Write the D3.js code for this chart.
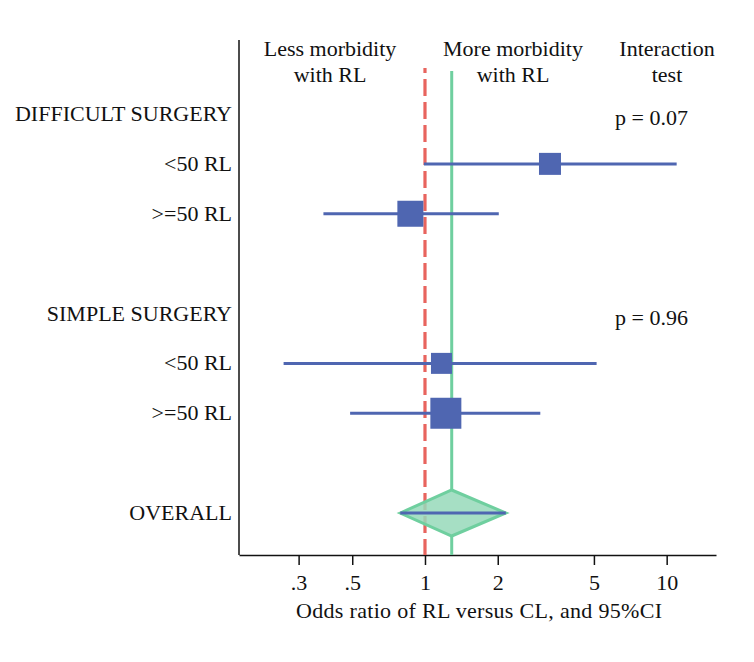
<!DOCTYPE html>
<html>
<head>
<meta charset="utf-8">
<script src="https://cdn.jsdelivr.net/npm/d3@7.9.0/dist/d3.min.js"></script>
<style>
  body { margin: 0; background: #fff; }
  svg text { font-family: "Liberation Serif", "Times New Roman", serif; fill: #111; }
</style>
</head>
<body>
<svg id="chart" width="754" height="662"></svg>
<script>
// rows, top to bottom (blank strings are spacer rows)
const rowLabels = ["DIFFICULT SURGERY", "<50 RL", ">=50 RL", "", "SIMPLE SURGERY", "<50 RL", ">=50 RL", "", "OVERALL"];

// subgroup estimates: which row they sit on, OR and 95% CI, weight (%)
const subRows = [1, 2, 5, 6];
const subOR = [3.29, 0.87, 1.17, 1.22];
const subLower = [0.99, 0.38, 0.26, 0.49];
const subUpper = [11.0, 2.02, 5.13, 3.0];
const subWeight = [18.9, 26.4, 17.2, 37.5];

// interaction tests, on the group header rows
const pRows = [0, 4];
const pLabels = ["p = 0.07", "p = 0.96"];

// pooled estimate
const overallRow = 8;
const overallOR = [1.29];
const overallCI = [0.79, 2.16];

const tickValues = [0.3, 0.5, 1, 2, 5, 10];
const tickLabels = [".3", ".5", "1", "2", "5", "10"];

const blue = "#4f66b1", green = "#6fcf9f", red = "#e8645e";
const fs = 22;

const svg = d3.select("#chart");
const x = d3.scaleLog().domain([0.17, 16]).range([239, 716]);
const y = d3.scaleLinear().domain([0, 8]).range([114, 513]);
const size = d3.scaleSqrt().domain([0, 100]).range([0, 50.6]);
const axisY = 555, frameTop = 40, halfDiamond = 23;

// left frame line
svg.append("line").attr("x1", 239).attr("x2", 239).attr("y1", frameTop).attr("y2", axisY)
  .attr("stroke", "#111").attr("stroke-width", 1.5);

// bottom axis
const axis = d3.axisBottom(x).tickValues(tickValues)
  .tickFormat((d, i) => tickLabels[i]).tickSize(10).tickSizeOuter(0).tickPadding(9);
const gx = svg.append("g").attr("transform", `translate(0,${axisY})`).call(axis);
gx.select(".domain").attr("stroke", "#111").attr("stroke-width", 1.5);
gx.selectAll(".tick line").attr("stroke", "#111").attr("stroke-width", 1.5);
gx.selectAll(".tick text").attr("font-size", fs)
  .style("font-family", "'Liberation Serif', serif").attr("fill", "#111");

svg.append("text").attr("x", 479).attr("y", 618).attr("text-anchor", "middle")
  .attr("font-size", fs).attr("textLength", 366).text("Odds ratio of RL versus CL, and 95%CI");

// reference lines: no effect (dashed) and pooled estimate
svg.append("line").attr("x1", x(1)).attr("x2", x(1)).attr("y1", 68).attr("y2", axisY)
  .attr("stroke", red).attr("stroke-width", 3.2).attr("stroke-dasharray", "17,6")
  .attr("stroke-dashoffset", 12);

const oy = y(overallRow), ox = x(overallOR[0]);
svg.append("line").attr("x1", ox).attr("x2", ox)
  .attr("y1", 71).attr("y2", oy - halfDiamond).attr("stroke", green).attr("stroke-width", 3);
svg.append("line").attr("x1", ox).attr("x2", ox)
  .attr("y1", oy + halfDiamond).attr("y2", axisY).attr("stroke", green).attr("stroke-width", 3);

// header text
const header = [
  { cx: 330, lines: ["Less morbidity", "with RL"] },
  { cx: 513, lines: ["More morbidity", "with RL"] },
  { cx: 667, lines: ["Interaction", "test"] }
];
header.forEach(h => {
  h.lines.forEach((t, i) => {
    svg.append("text").attr("x", h.cx).attr("y", 56 + i * 26).attr("text-anchor", "middle")
      .attr("font-size", fs).text(t);
  });
});

// row labels
svg.selectAll(".rowlab").data(rowLabels).join("text").attr("class", "rowlab")
  .attr("x", 232).attr("y", (d, i) => y(i) + 7).attr("text-anchor", "end")
  .attr("font-size", fs).text(d => d);

// p-values
svg.selectAll(".pval").data(pLabels).join("text").attr("class", "pval")
  .attr("x", 615).attr("y", (d, i) => y(pRows[i]) + 11)
  .attr("font-size", fs).text(d => d);

// overall diamond + its CI
svg.append("path")
  .attr("d", `M${x(overallCI[0])},${oy} L${ox},${oy - halfDiamond} L${x(overallCI[1])},${oy} L${ox},${oy + halfDiamond} Z`)
  .attr("fill", "#97d9ba").attr("fill-opacity", 0.85).attr("stroke", green).attr("stroke-width", 3);
svg.append("line").attr("x1", x(overallCI[0])).attr("x2", x(overallCI[1]))
  .attr("y1", oy).attr("y2", oy).attr("stroke", blue).attr("stroke-width", 3);

// subgroup CIs and squares
const idx = d3.range(subRows.length);
svg.selectAll(".ci").data(idx).join("line").attr("class", "ci")
  .attr("x1", i => x(subLower[i])).attr("x2", i => x(subUpper[i]))
  .attr("y1", i => y(subRows[i])).attr("y2", i => y(subRows[i]))
  .attr("stroke", blue).attr("stroke-width", 3);
svg.selectAll(".sq").data(idx).join("rect").attr("class", "sq")
  .attr("x", i => x(subOR[i]) - size(subWeight[i]) / 2)
  .attr("y", i => y(subRows[i]) - size(subWeight[i]) / 2)
  .attr("width", i => size(subWeight[i])).attr("height", i => size(subWeight[i]))
  .attr("fill", blue);
</script>
</body>
</html>
